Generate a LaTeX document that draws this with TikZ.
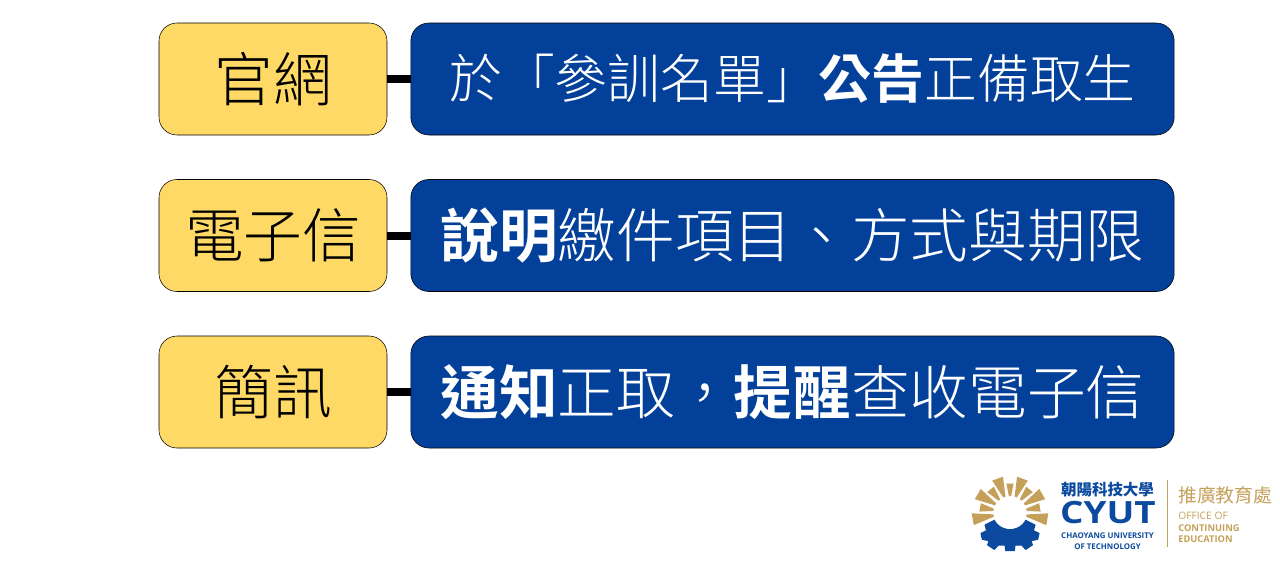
\documentclass[tikz,border=0pt]{standalone}
\usepackage{fontspec}
\IfFontExistsTF{Noto Sans CJK TC Light}{\setmainfont[BoldFont={Noto Sans CJK TC Bold}]{Noto Sans CJK TC Light}}{\setmainfont{Noto Sans CJK TC}}
\newfontfamily\cjkregular{Noto Sans CJK TC}
\newfontfamily\latinfont{Open Sans}
\newfontfamily\latinwide[FakeStretch=1.2]{Open Sans}
\definecolor{boxyellow}{HTML}{FFD966}
\definecolor{boxblue}{HTML}{03409A}
\definecolor{logogold}{HTML}{C5A05A}
\definecolor{logoblue}{HTML}{0B4A9E}
\tikzset{
  channel/.style={draw=black,fill=boxyellow,rounded corners=13.5pt,minimum width=171pt,minimum height=84pt,inner sep=0pt,text=black,font=\fontsize{44}{46}\selectfont},
  message/.style={draw=black,fill=boxblue,rounded corners=13.5pt,minimum width=572.5pt,minimum height=84pt,inner sep=0pt,text=white,font=\fontsize{44}{46}\selectfont},
  link/.style={line width=6pt,black},
  logotext/.style={inner sep=0pt,text=logoblue},
  officetext/.style={inner sep=0pt,anchor=west,text=logogold}
}
\begin{document}
\begin{tikzpicture}[x=0.75pt,y=-0.75pt,line join=round]
  \useasboundingbox (0,0) rectangle (1280,568);

  % rows: channel on the left, message on the right
  \node[channel] (web) at (273,79) {官網};
  \node[message,font=\fontsize{39.6}{42}\selectfont] (webmsg) at (792.5,79) {於「參訓名單」\textbf{公告}正備取生};
  \node[channel] (mail) at (273,235.5) {電子信};
  \node[message] (mailmsg) at (792.5,235.5) {\textbf{說明}繳件項目、方式與期限};
  \node[channel] (sms) at (273,392) {簡訊};
  \node[message] (smsmsg) at (792.5,392) {\textbf{通知}正取，\textbf{提醒}查收電子信};

  \draw[link] (web) -- (webmsg);
  \draw[link] (mail) -- (mailmsg);
  \draw[link] (sms) -- (smsmsg);

  % logo, drawn in units of a third of a pixel
  \begin{scope}[shift={(965,470)},scale=1/3]
    % gear under the sun
    \fill[logoblue,draw=logoblue,line width=0.8pt] (90,150) -- (60,165) -- (65,182) -- (48,190) -- (52,208) -- (72,212)
      -- (68,225) -- (88,238) -- (100,225) -- (120,225) -- (122,242) -- (148,242) -- (150,225)
      -- (170,225) -- (182,238) -- (202,225) -- (198,212) -- (218,208) -- (222,190) -- (205,182)
      -- (210,165) -- (180,150) -- cycle;
    \fill[white] (135,125) circle (52);
    % rays around the sun
    \begin{scope}[shift={(135,128)}]
      \foreach \a/\r/\w in {190/115/9,170/92/8,150/113/9,130/92/8,110/110/9,90/88/7,70/110/9,50/92/8,30/113/9,10/92/8,-10/115/9} {
        \fill[logogold] (-\a-4:50) -- (-\a-\w:\r) -- (-\a+\w:\r) -- (-\a+4:50) -- cycle;
      }
    \end{scope}
  \end{scope}

  % logo: names
  \node[logotext,font=\cjkregular\fontsize{11.6}{13}\bfseries\selectfont] (cyutzh) at (1107.5,490) {朝陽科技大學};
  \node[logotext,font=\latinwide\fontsize{23}{24}\bfseries\selectfont] (cyut) at (1108,513) {CYUT};
  \node[logotext,font=\latinfont\fontsize{5.9}{8}\bfseries\selectfont,align=center] (cyuten) at (1107.5,541.5) {CHAOYANG UNIVERSITY\\OF TECHNOLOGY};
  \coordinate (ruletop) at (1167,480);
  \coordinate (rulebot) at (1167,547);
  \draw[logogold,line width=0.75pt] (ruletop) -- (rulebot);
  \node[officetext,font=\cjkregular\fontsize{14.1}{16}\selectfont] (office) at (1178,495) {推廣教育處};
  \node[officetext,font=\latinfont\fontsize{7}{8.6}\selectfont,align=left] (officeen) at (1178,527.5) {{\fontsize{7.7}{8.6}\selectfont OFFICE OF}\\\textbf{CONTINUING}\\\textbf{EDUCATION}};
\end{tikzpicture}
\end{document}
